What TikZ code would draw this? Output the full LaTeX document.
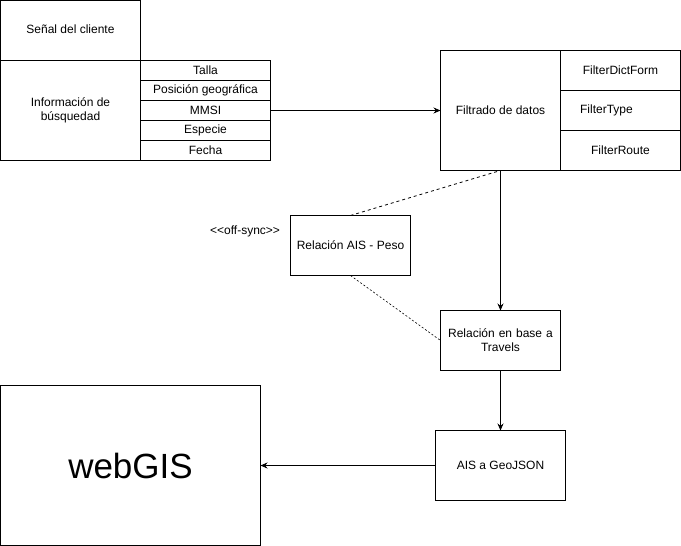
\documentclass[tikz,border=0pt]{standalone}
\usepackage{fontspec}
\setmainfont{Liberation Sans}
\usetikzlibrary{arrows.meta, positioning}

\begin{document}
\begin{tikzpicture}[x=1pt, y=-1pt, node distance=0pt, >={Stealth[length=7pt,width=6pt]}, font=\fontsize{12}{14}\selectfont]
  \tikzstyle{box} = [rectangle, draw, line width=1pt, outer sep=0pt, align=center, inner sep=2pt]
  \tikzstyle{field} = [box, minimum width=130pt, minimum height=20pt]
  \tikzstyle{filter} = [box, minimum width=120pt, minimum height=40pt]
  \tikzstyle{flow} = [->, line width=1pt]
  \tikzstyle{sync} = [line width=0.8pt, dash pattern=on 3pt off 3pt]

  \useasboundingbox (0,0) rectangle (681,546);

  \node [box, minimum width=140pt, minimum height=60pt] (senal) at (70.5,30.5) {\raisebox{2pt}{Señal del cliente}};
  \node [box, minimum width=140pt, minimum height=100pt, below=0pt of senal] (info) {Información de\\búsquedad};

  \node [field] (talla) at (205.5,70.5) {\raisebox{1pt}{Talla}};
  \node [field, below=of talla] (posicion) {Posición geográfica};
  \node [field, below=of posicion] (mmsi) {MMSI};
  \node [field, below=of mmsi] (especie) {Especie};
  \node [field, below=of especie] (fecha) {Fecha};

  \node [box, minimum width=120pt, minimum height=120pt] (filtrado) at (500.5,110.5) {Filtrado de datos};
  \node [filter, right=0pt of filtrado.north east, anchor=north west] (dictform) {FilterDictForm};
  \node [filter, below=of dictform] (ftype) {FilterType\hspace{28pt}};
  \node [filter, below=of ftype] (froute) {FilterRoute};

  \node [box, minimum width=120pt, minimum height=60pt] (peso) at (350.5,245.5) {Relación AIS - Peso};
  \node [left=7pt of peso.north west, anchor=north east, yshift=-7pt] (offsync) {<\kern0pt<off-sync>\kern0pt>};

  \node [box, minimum width=120pt, minimum height=60pt, text width=114pt] (travels) at (500.5,340.5) {Relación en base a\\Travels};
  \node [box, minimum width=130pt, minimum height=70pt] (geojson) at (500.5,465.5) {AIS a GeoJSON};
  \node [box, minimum width=260pt, minimum height=160pt, font=\fontsize{35}{40}\selectfont] (webgis) at (130.5,465.5) {webGIS};

  \draw [flow] (mmsi.east) -- (filtrado.west);
  \draw [flow] (filtrado.south) -- (travels.north);
  \draw [flow] (travels.south) -- (geojson.north);
  \draw [flow] (geojson.west) -- (webgis.east);

  \draw [sync] (peso.north) -- (filtrado.south);
  \draw [sync, line width=0.6pt, dash pattern=on 2pt off 2pt] (peso.south) -- (travels.west);
\end{tikzpicture}
\end{document}
